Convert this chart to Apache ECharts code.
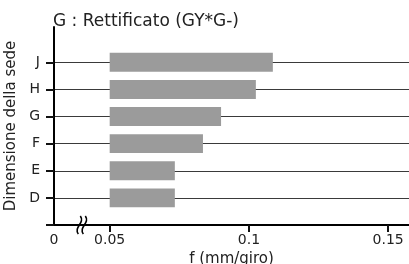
<!DOCTYPE html>
<html>
<head>
<meta charset="utf-8">
<script src="https://cdn.jsdelivr.net/npm/echarts@6/dist/echarts.min.js"></script>
<style>
  html, body { margin: 0; padding: 0; background: #fff; }
  #chart { width: 409px; height: 264px; }
</style>
</head>
<body>
<div id="chart"></div>
<script>
const categories = ['D', 'E', 'F', 'G', 'H', 'J']
const barStart = [0.05, 0.05, 0.05, 0.05, 0.05, 0.05]
const barEnd = [0.0734, 0.0734, 0.0835, 0.09, 0.1025, 0.1086]
const xTicks = [0.05, 0.1, 0.15]
const xMin = 0.03   // axis is broken, the start is labelled 0

const textColor = '#222'
const font = 'DejaVu Sans'

const chart = echarts.init(document.getElementById('chart'), null, { renderer: 'canvas' })

const seriesData = categories.map((c, i) => [i + 1, barStart[i], barEnd[i]])
const catPos = categories.map((c, i) => i + 1)

const option = {
  animation: false,
  title: {
    text: 'G : Rettificato (GY*G-)',
    left: 48,
    top: 8,
    textStyle: { fontFamily: font, fontSize: 17, fontWeight: 'normal', color: textColor }
  },
  grid: { left: 54, right: 0, top: 27, bottom: 39, outerBoundsMode: 'none' },
  xAxis: {
    type: 'value',
    min: xMin,
    max: 0.1575,
    name: 'f (mm/giro)',
    nameLocation: 'middle',
    nameGap: 26,
    nameTextStyle: { fontFamily: font, fontSize: 15, color: textColor },
    axisLine: { lineStyle: { color: '#000', width: 2 } },
    axisTick: { show: true, length: 7, customValues: xTicks, lineStyle: { color: '#111', width: 2 } },
    axisLabel: {
      customValues: [xMin].concat(xTicks),
      formatter: v => v === xMin ? '0' : String(v),
      fontFamily: font, fontSize: 14, color: textColor, margin: 8
    },
    splitLine: { show: false }
  },
  yAxis: {
    type: 'value',
    min: 0,
    max: 7.3,
    name: 'Dimensione della sede',
    nameLocation: 'middle',
    nameGap: 27,
    nameTextStyle: { fontFamily: font, fontSize: 15, color: textColor },
    axisLine: { show: true, lineStyle: { color: '#000', width: 2 } },
    axisTick: { show: true, length: 8, customValues: [0].concat(catPos), lineStyle: { color: '#111', width: 2 } },
    axisLabel: {
      customValues: catPos,
      formatter: v => categories[v - 1],
      fontFamily: font, fontSize: 14, color: textColor, margin: 14
    },
    splitLine: { show: true, lineStyle: { color: '#3a3a3a', width: 1 } }
  },
  series: [{
    type: 'custom',
    encode: { x: [1, 2], y: 0 },
    data: seriesData,
    renderItem: (params, api) => {
      const y = api.value(0)
      const p0 = api.coord([api.value(1), y])
      const p1 = api.coord([api.value(2), y])
      const h = api.size([0, 1])[1] * 0.7
      return {
        type: 'rect',
        shape: { x: p0[0], y: p0[1] - h / 2, width: p1[0] - p0[0], height: h },
        style: { fill: '#9b9b9b' }
      }
    }
  }]
}
chart.setOption(option)

// axis break mark, placed on the x axis between 0 and 0.05
const bx = chart.convertToPixel({ xAxisIndex: 0 }, 0.04)
const by = chart.convertToPixel({ yAxisIndex: 0 }, 0)
const wave = dx => ({
  type: 'bezierCurve',
  shape: { x1: dx + 1, y1: -9, x2: dx - 1, y2: 9, cpx1: dx + 6, cpy1: -2, cpx2: dx - 6, cpy2: 2 },
  style: { stroke: '#000', lineWidth: 1.6, fill: null }
})
chart.setOption({
  graphic: [{
    type: 'group',
    x: bx,
    y: by,
    children: [wave(-2.5), wave(2.5)]
  }]
})
</script>
</body>
</html>
